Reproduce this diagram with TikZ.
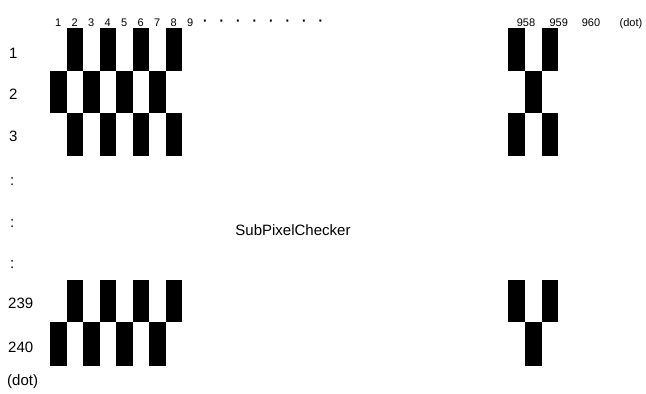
\documentclass[tikz,border=0pt]{standalone}
\usepackage{fontspec}
\setmainfont{Liberation Sans}
\begin{document}
\begin{tikzpicture}[x=1pt,y=-1pt,
  cell/.style={fill=black},
  toplab/.style={anchor=base,inner sep=0pt,font=\fontsize{11}{13}\selectfont},
  dotlab/.style={anchor=base,inner sep=0pt,font=\fontsize{20}{22}\selectfont},
  rowlab/.style={anchor=base west,inner sep=0pt,font=\fontsize{15}{18}\selectfont},
  midlab/.style={anchor=base,inner sep=0pt,font=\fontsize{15}{18}\selectfont}]
\useasboundingbox (0,0) rectangle (646,394);
\fill[white] (0,0) rectangle (646,394);
% left block
\foreach \i in {2,4,6,8}{
  \fill[cell] ({50+(\i-1)*16.5},28) rectangle ++(16.5,42.5);
  \fill[cell] ({50+(\i-1)*16.5},113) rectangle ++(16.5,42.5);
  \fill[cell] ({50+(\i-1)*16.5},280) rectangle ++(16.5,42.3);
}
\foreach \i in {1,3,5,7}{
  \fill[cell] ({50+(\i-1)*16.5},70.5) rectangle ++(16.5,42.5);
  \fill[cell] ({50+(\i-1)*16.5},322.3) rectangle ++(16.5,43.4);
}
% right block
\fill[cell] (508,28) rectangle ++(16.8,42.5);
\fill[cell] (541.6,28) rectangle ++(16.8,42.5);
\fill[cell] (524.8,70.5) rectangle ++(16.8,42.5);
\fill[cell] (508,113) rectangle ++(16.8,42.5);
\fill[cell] (541.6,113) rectangle ++(16.8,42.5);
\fill[cell] (508,280) rectangle ++(16.8,42.3);
\fill[cell] (541.6,280) rectangle ++(16.8,42.3);
\fill[cell] (524.8,322.3) rectangle ++(16.8,43.4);
% column labels
\foreach \i in {1,...,9}{
  \node[toplab] (c\i) at ({58.25+(\i-1)*16.5},26) {\i};
}
\foreach \k in {0,...,7}{
  \node[dotlab] (d\k) at ({205+\k*16.5},26.5) {·};
}
\node[toplab] (c958) at (526,26) {958};
\node[toplab] (c959) at (558.7,26) {959};
\node[toplab] (c960) at (591,26) {960};
\node[toplab] (cdot) at (631,26) {(dot)};
% row labels
\node[rowlab] (r1) at (9,58) {1};
\node[rowlab] (r2) at (9,99) {2};
\node[rowlab] (r3) at (9,141) {3};
\node[rowlab] (k1) at (10,185) {:};
\node[rowlab] (k2) at (10,227) {:};
\node[rowlab] (k3) at (10,268) {:};
\node[rowlab] (r239) at (8,308.3) {239};
\node[rowlab] (r240) at (8,352) {240};
\node[rowlab] (rdot) at (7,385) {(dot)};
\node[midlab] (title) at (293,235) {SubPixelChecker};
\end{tikzpicture}
\end{document}
